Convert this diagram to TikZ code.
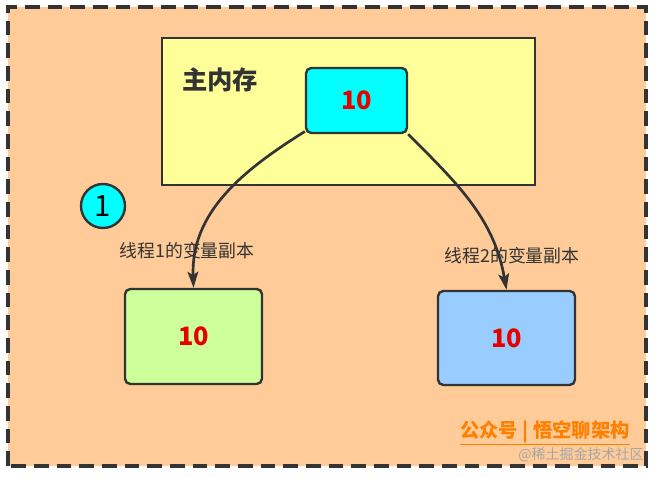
\documentclass[tikz,border=0pt]{standalone}
\usepackage{fontspec}
\setmainfont{Noto Sans CJK SC}
\usepackage{xcolor}
\definecolor{bgpeach}{RGB}{255,204,153}
\definecolor{memyellow}{RGB}{255,255,153}
\definecolor{sharedcyan}{RGB}{0,255,255}
\definecolor{copygreen}{RGB}{204,255,153}
\definecolor{copyblue}{RGB}{153,204,255}
\definecolor{inkdark}{RGB}{51,51,51}
\definecolor{valred}{RGB}{230,0,0}
\definecolor{markorange}{RGB}{255,128,0}
\usetikzlibrary{positioning,arrows.meta}
\tikzset{
  box/.style={draw=inkdark,line width=1.8pt,rounded corners=4pt,font=\fontsize{19}{20}\selectfont\bfseries,text=valred},
  copylink/.style={draw=inkdark,line width=2pt,-{Stealth[length=12pt,width=8pt,inset=2.5pt]}},
  tag/.style={font=\fontsize{13.4}{15}\selectfont,text=inkdark}
}
\begin{document}
\begin{tikzpicture}[x=0.75pt,y=0.75pt]
  \useasboundingbox (0,0) rectangle (658,478);
  % background frame
  \draw[inkdark,fill=bgpeach,line width=2.4pt,dash pattern=on 11pt off 6pt] (8,12) rectangle (646,471);
  % main memory
  \node[draw=inkdark,fill=memyellow,line width=1.8pt,minimum width=279.75pt,minimum height=110.25pt] (mainmem) at (348.5,366.5) {};
  \node[font=\fontsize{19}{20}\selectfont\bfseries,text=inkdark] (memtitle) at (220,398) {主内存};
  \node[box,fill=sharedcyan,minimum width=75.75pt,minimum height=48.75pt] (shared) at (356.5,377.5) {10};
  % thread copies
  \node[box,fill=copygreen,minimum width=102.75pt,minimum height=71.25pt] (copyA) at (193.5,141.5) {10};
  \node[box,fill=copyblue,minimum width=102.75pt,minimum height=70.5pt] (copyB) at (506.5,140) {10};
  \node[circle,draw=inkdark,fill=sharedcyan,line width=1.8pt,minimum size=33pt,inner sep=0pt,font=\fontsize{22}{22}\selectfont] (step1) at (103,272) {1};
  \draw[copylink] ([yshift=2pt]shared.south west) to[out=212,in=92] (copyA.north);
  \draw[copylink] (shared.south east) to[out=-45,in=100] (copyB.north);
  \node[tag] (tagA) at (187,227) {线程1的变量副本};
  \node[tag] (tagB) at (512,222) {线程2的变量副本};
  % watermark
  \node[font=\fontsize{14.5}{16}\selectfont\bfseries,text=markorange] (mark) at (545,45) {\underline{公众号 | 悟空聊架构}};
  \node[font=\fontsize{10.5}{12}\selectfont,text=gray!70] (site) at (581,23) {@稀土掘金技术社区};
\end{tikzpicture}
\end{document}
